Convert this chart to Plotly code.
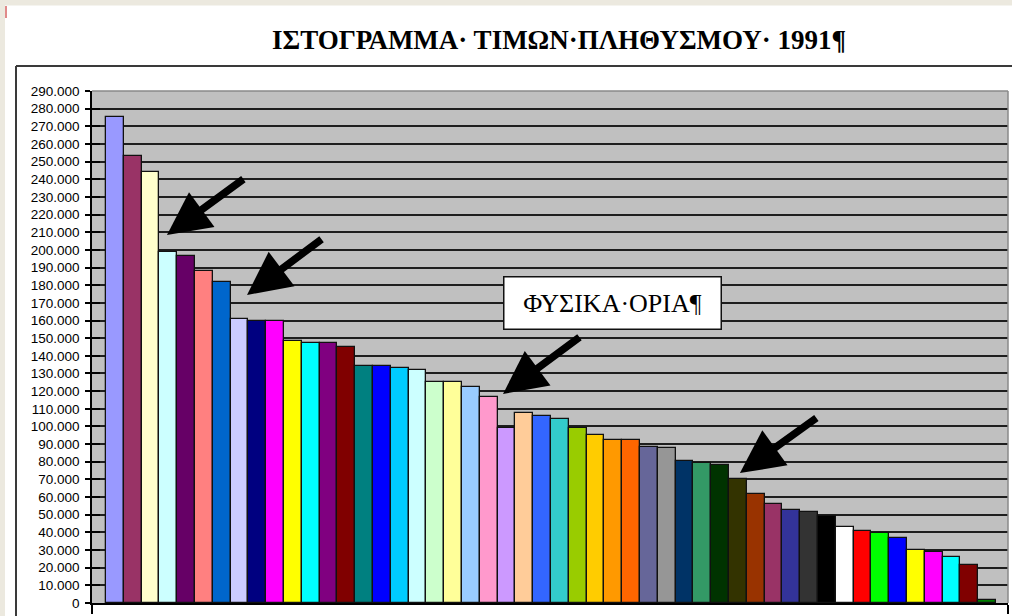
import plotly.graph_objects as go

# ---------------- data ----------------
categories = list(range(1, 51))
population = [275400, 253400, 244300, 199000, 196400, 187900, 182000, 160900, 159700, 159700,
              148300, 147000, 147100, 145100, 134400, 134400, 133300, 132000, 125000, 125000,
              122500, 116800, 99300, 107400, 106100, 104100, 99000, 95000, 92300, 92300,
              88400, 88000, 80600, 79500, 78400, 70100, 61900, 56300, 52800, 51400,
              49100, 43000, 40900, 39400, 36600, 30200, 28900, 25900, 21400, 1500]
bar_colors = ["#9999FF", "#993366", "#FFFFCC", "#CCFFFF", "#660066", "#FF8080", "#0066CC", "#CCCCFF",
              "#000080", "#FF00FF", "#FFFF00", "#00FFFF", "#800080", "#800000", "#008080", "#0000FF",
              "#00CCFF", "#CCFFFF", "#CCFFCC", "#FFFF99", "#99CCFF", "#FF99CC", "#CC99FF", "#FFCC99",
              "#3366FF", "#33CCCC", "#99CC00", "#FFCC00", "#FF9900", "#FF6600", "#666699", "#969696",
              "#003366", "#339966", "#003300", "#333300", "#993300", "#993366", "#333399", "#333333",
              "#000000", "#FFFFFF", "#FF0000", "#00FF00", "#0000FF", "#FFFF00", "#FF00FF", "#00FFFF",
              "#800000", "#008000"]
y_ticks = list(range(0, 290001, 10000))
title_text = "ΙΣΤΟΓΡΑΜΜΑ· ΤΙΜΩΝ·ΠΛΗΘΥΣΜΟΥ· 1991¶"
box_text = "ΦΥΣΙΚΑ·ΟΡΙΑ¶"
# arrows: (tip_x, tip_y, tail_x, tail_y) in data units
arrows = [(3.92, 208400, 8.30, 240700),
          (8.42, 174500, 12.69, 206700),
          (22.80, 118400, 27.18, 151200),
          (36.11, 73600, 40.49, 105400)]

X_RANGE = [-0.29, 51.17]
Y_RANGE = [0, 290000]

fig = go.Figure()
fig.add_trace(go.Bar(
    x=categories, y=population,
    marker=dict(color=bar_colors, line=dict(color="#111111", width=1.3)),
    width=1.0, showlegend=False, hoverinfo="y"))
# helper trace for the inner half of the cross ticks
fig.add_trace(go.Scatter(x=[1], y=[0], yaxis="y2", mode="markers",
                         marker=dict(opacity=0), showlegend=False, hoverinfo="skip"))

annotations = []
for tx, ty, ax, ay in arrows:
    annotations.append(dict(x=tx, y=ty, ax=ax, ay=ay, xref="x", yref="y", axref="x", ayref="y",
                            text="", showarrow=True, arrowhead=2, arrowsize=1.15,
                            arrowwidth=7.5, arrowcolor="black", standoff=0))
annotations.append(dict(x=0.5098, y=1.0996, xref="paper", yref="paper", xanchor="center",
                        yanchor="middle", text="<b>" + title_text + "</b>", showarrow=False,
                        font=dict(family="Liberation Serif", size=27, color="black")))
annotations.append(dict(x=0.5677, y=0.585, xref="paper", yref="paper", xanchor="center",
                        yanchor="middle", text=box_text, showarrow=False,
                        font=dict(family="Liberation Serif", size=26, color="black"),
                        bgcolor="white", bordercolor="#111111", borderwidth=1.5, borderpad=1,
                        width=214, height=49))

# paper coords: px -> (px-92)/916 ; py -> (603-py)/512
def px(v):
    return (v - 92) / 916.0

def py(v):
    return (603 - v) / 512.0

shapes = [
    # beige window strips
    dict(type="rect", xref="paper", yref="paper", x0=px(0), x1=px(1012), y0=py(5.5), y1=py(0),
         fillcolor="#ECE9DF", line=dict(width=0), layer="above"),
    dict(type="rect", xref="paper", yref="paper", x0=px(0), x1=px(5), y0=py(616), y1=py(0),
         fillcolor="#ECE9DF", line=dict(width=0), layer="above"),
    dict(type="rect", xref="paper", yref="paper", x0=px(5), x1=px(7), y0=py(18), y1=py(6),
         fillcolor="#E08A8A", line=dict(width=0), layer="above"),
    # outer chart frame
    dict(type="line", xref="paper", yref="paper", x0=px(16), x1=px(1014), y0=py(66), y1=py(66),
         line=dict(color="#3a3a3a", width=2), layer="above"),
    dict(type="line", xref="paper", yref="paper", x0=px(16), x1=px(16), y0=py(66), y1=py(620),
         line=dict(color="#3a3a3a", width=2), layer="above"),
    # plot area top/right border
    dict(type="line", xref="paper", yref="paper", x0=0, x1=1, y0=1, y1=1,
         line=dict(color="#8a8a8a", width=1.5), layer="above"),
    dict(type="line", xref="paper", yref="paper", x0=1, x1=1, y0=0, y1=1,
         line=dict(color="#8a8a8a", width=1.5), layer="above"),
]

fig.update_layout(
    width=1012, height=616,
    margin=dict(l=92, r=4, t=91, b=13),
    paper_bgcolor="white", plot_bgcolor="#C0C0C0",
    separators=",.",
    bargap=0,
    annotations=annotations,
    shapes=shapes,
    xaxis=dict(range=X_RANGE, showgrid=False, zeroline=False, showline=True,
               linecolor="black", linewidth=1.5, tickvals=[X_RANGE[0] + 0.02, X_RANGE[1] - 0.02],
               ticks="outside", ticklen=9, tickcolor="black", tickwidth=1.5,
               showticklabels=False, fixedrange=True),
    yaxis=dict(range=Y_RANGE, tickvals=y_ticks, tickformat=",d", showgrid=True,
               gridcolor="#1e1e1e", gridwidth=1.6, zeroline=False, showline=True,
               linecolor="black", linewidth=1.5, ticks="outside", ticklen=5,
               tickcolor="black", tickwidth=1.5, ticklabelstandoff=3,
               tickfont=dict(family="Liberation Sans", size=13.5, color="black"),
               fixedrange=True),
    yaxis2=dict(range=Y_RANGE, overlaying="y", side="left", tickvals=y_ticks,
                ticks="inside", ticklen=8, tickcolor="black", tickwidth=1.5,
                showticklabels=False, showgrid=False, zeroline=False, showline=False,
                fixedrange=True),
)

fig.write_html("out.html", config={"displayModeBar": False},
               post_script="document.body.style.margin='0';document.body.style.overflow='hidden';")
